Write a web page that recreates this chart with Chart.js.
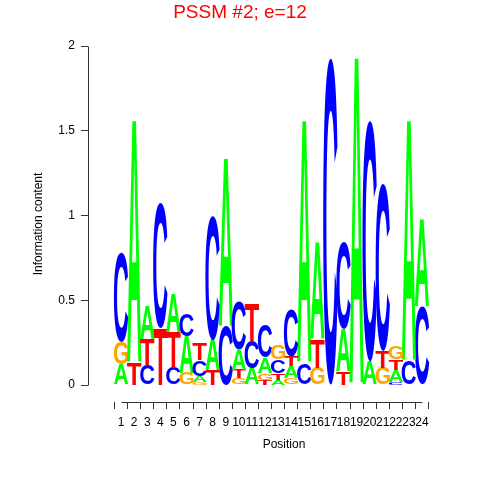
<!DOCTYPE html>
<html>
<head>
<meta charset="utf-8">
<script src="https://cdn.jsdelivr.net/npm/chart.js@4.4.1/dist/chart.umd.min.js"></script>
<style>
html,body{margin:0;padding:0;background:#fff;}
#wrap{width:480px;height:480px;}
</style>
</head>
<body>
<div id="wrap"><canvas id="c" width="480" height="480"></canvas></div>
<script>
// ---- data (information content in bits per base at each position) ----
const positions = [1,2,3,4,5,6,7,8,9,10,11,12,13,14,15,16,17,18,19,20,21,22,23,24];
const bitsA = [0.125,1.43,0.20,0,   0.23,0.22,0.04,0.18,0.99,0.12,0.10,0.09,0.03,0.07,1.43,0.57,0,   0.25,1.93,0.14,0,   0.07,1.42,0.52];
const bitsC = [0.53, 0,   0.12,0.74,0.10,0.135,0.09,0.73,0.35,0.29,0.16,0.19,0.08,0.28,0.13,0,   1.93,0.51,0,   1.42,0.99,0.02,0.14,0.46];
const bitsG = [0.13, 0,   0,   0,   0,   0.07,0.015,0,  0,   0.04,0,   0.04,0.085,0.04,0,  0.10,0,   0,   0,   0,   0.10,0.08,0,   0];
const bitsT = [0,    0.13,0.15,0.34,0.21,0,   0.10,0.09,0,   0.05,0.22,0.03,0.04,0.06,0,   0.17,0,   0.08,0,   0,   0.10,0.06,0,   0];
// letters stacked bottom -> top at each position
const stackOrder = ["AGC","TA","CTA","TC","CTA","GAC","GACT","TAC","CA","GTAC","ACT","TGAC","ATCG","GATC","CA","GTA","C","TAC","A","AC","GTC","CATG","CA","CA"];
const yTicks = [0,0.5,1,1.5,2];
const titleText = "PSSM #2; e=12";
const xTitle = "Position";
const yTitle = "Information content";

const bits = {A: bitsA, C: bitsC, G: bitsG, T: bitsT};
const letterColors = {A: "#00FF00", C: "#0000FF", G: "#FFA500", T: "#FF0000"};

const nLayers = 4;
const datasets = [];
for (let k = 0; k < nLayers; k++) {
  const letters = stackOrder.map(s => s[k] || null);
  datasets.push({
    label: "layer" + k,
    letters: letters,
    data: positions.map((p, i) => ({x: p, y: letters[i] ? bits[letters[i]][i] : 0})),
    backgroundColor: "rgba(0,0,0,0)",
    borderWidth: 0,
    barPercentage: 1,
    categoryPercentage: 1,
    stack: "logo"
  });
}

const FONT = '"Liberation Sans", Arial, Helvetica, sans-serif';
Chart.defaults.font.family = FONT;
Chart.defaults.font.size = 12;
Chart.defaults.color = "#000";

const metricsCache = {};
function glyph(ctx, ch) {
  if (!metricsCache[ch]) {
    ctx.save();
    ctx.font = 'bold 200px ' + FONT;
    const m = ctx.measureText(ch);
    metricsCache[ch] = {l: m.actualBoundingBoxLeft, r: m.actualBoundingBoxRight, a: m.actualBoundingBoxAscent, d: m.actualBoundingBoxDescent};
    ctx.restore();
  }
  return metricsCache[ch];
}

const logoPlugin = {
  id: "logo",
  afterDatasetsDraw(chart) {
    const ctx = chart.ctx;
    chart.data.datasets.forEach((ds, d) => {
      const meta = chart.getDatasetMeta(d);
      meta.data.forEach((el, i) => {
        const ch = ds.letters[i];
        if (!ch) return;
        const p = el.getProps(["x", "y", "base", "width"], true);
        const top = Math.min(p.y, p.base), h = Math.abs(p.base - p.y);
        if (h <= 0.2) return;
        const w = p.width * 1.1;
        const g = glyph(ctx, ch);
        const gw = g.l + g.r, gh = g.a + g.d;
        ctx.save();
        ctx.translate(p.x - w / 2, top);
        ctx.scale(w / gw, h / gh);
        ctx.font = 'bold 200px ' + FONT;
        ctx.textAlign = "left";
        ctx.textBaseline = "alphabetic";
        ctx.fillStyle = letterColors[ch];
        ctx.fillText(ch, g.l, g.a);
        ctx.restore();
      });
    });
  },
  afterDraw(chart) {
    const ctx = chart.ctx, xs = chart.scales.x, ys = chart.scales.y, a = chart.chartArea;
    ctx.save();
    ctx.strokeStyle = "#333";
    ctx.lineWidth = 1;
    ctx.beginPath();
    const lx = Math.round(a.left) + 0.5;
    ctx.moveTo(lx, Math.round(ys.getPixelForValue(yTicks[0])) + 0.5);
    ctx.lineTo(lx, Math.round(ys.getPixelForValue(yTicks[yTicks.length - 1])) + 0.5);
    const by = Math.round(a.bottom) + 0.5;
    ctx.moveTo(Math.round(xs.getPixelForValue(positions[0])) + 0.5, by);
    ctx.lineTo(Math.round(xs.getPixelForValue(positions[positions.length - 1])) + 0.5, by);
    ctx.stroke();
    ctx.restore();
  }
};

new Chart(document.getElementById("c"), {
  type: "bar",
  data: {datasets: datasets},
  options: {
    responsive: false,
    animation: false,
    layout: {padding: {left: 0, right: 0, top: 0, bottom: 0}},
    plugins: {
      legend: {display: false},
      tooltip: {enabled: false},
      title: {
        display: true,
        text: titleText,
        color: "#FF0000",
        font: {size: 19, weight: "normal", family: FONT, lineHeight: 1.2},
        padding: {top: 1, bottom: 22.2}
      }
    },
    scales: {
      x: {
        type: "linear",
        stacked: true,
        min: -0.9045,
        max: 27.81,
        afterBuildTicks: s => { s.ticks = positions.map(v => ({value: v})); },
        afterFit: s => { s.height = 78; },
        ticks: {autoSkip: false, maxRotation: 0, minRotation: 0, padding: 6, color: "#000", font: {size: 12}, callback: v => String(v)},
        grid: {drawOnChartArea: false, drawTicks: true, tickLength: 7, color: "#333"},
        border: {display: false},
        title: {display: true, text: xTitle, color: "#000", font: {size: 12}, padding: {top: 0, bottom: 28}}
      },
      y: {
        stacked: true,
        min: -0.1,
        max: 2,
        afterBuildTicks: s => { s.ticks = yTicks.map(v => ({value: v})); },
        afterFit: s => { s.width = 88; },
        ticks: {padding: 6, color: "#000", font: {size: 12}, callback: v => String(v)},
        grid: {drawOnChartArea: false, drawTicks: true, tickLength: 7, color: "#333"},
        border: {display: false},
        title: {display: true, text: yTitle, color: "#000", font: {size: 12}, padding: {top: 31, bottom: 0}}
      }
    }
  },
  plugins: [logoPlugin]
});
</script>
</body>
</html>
